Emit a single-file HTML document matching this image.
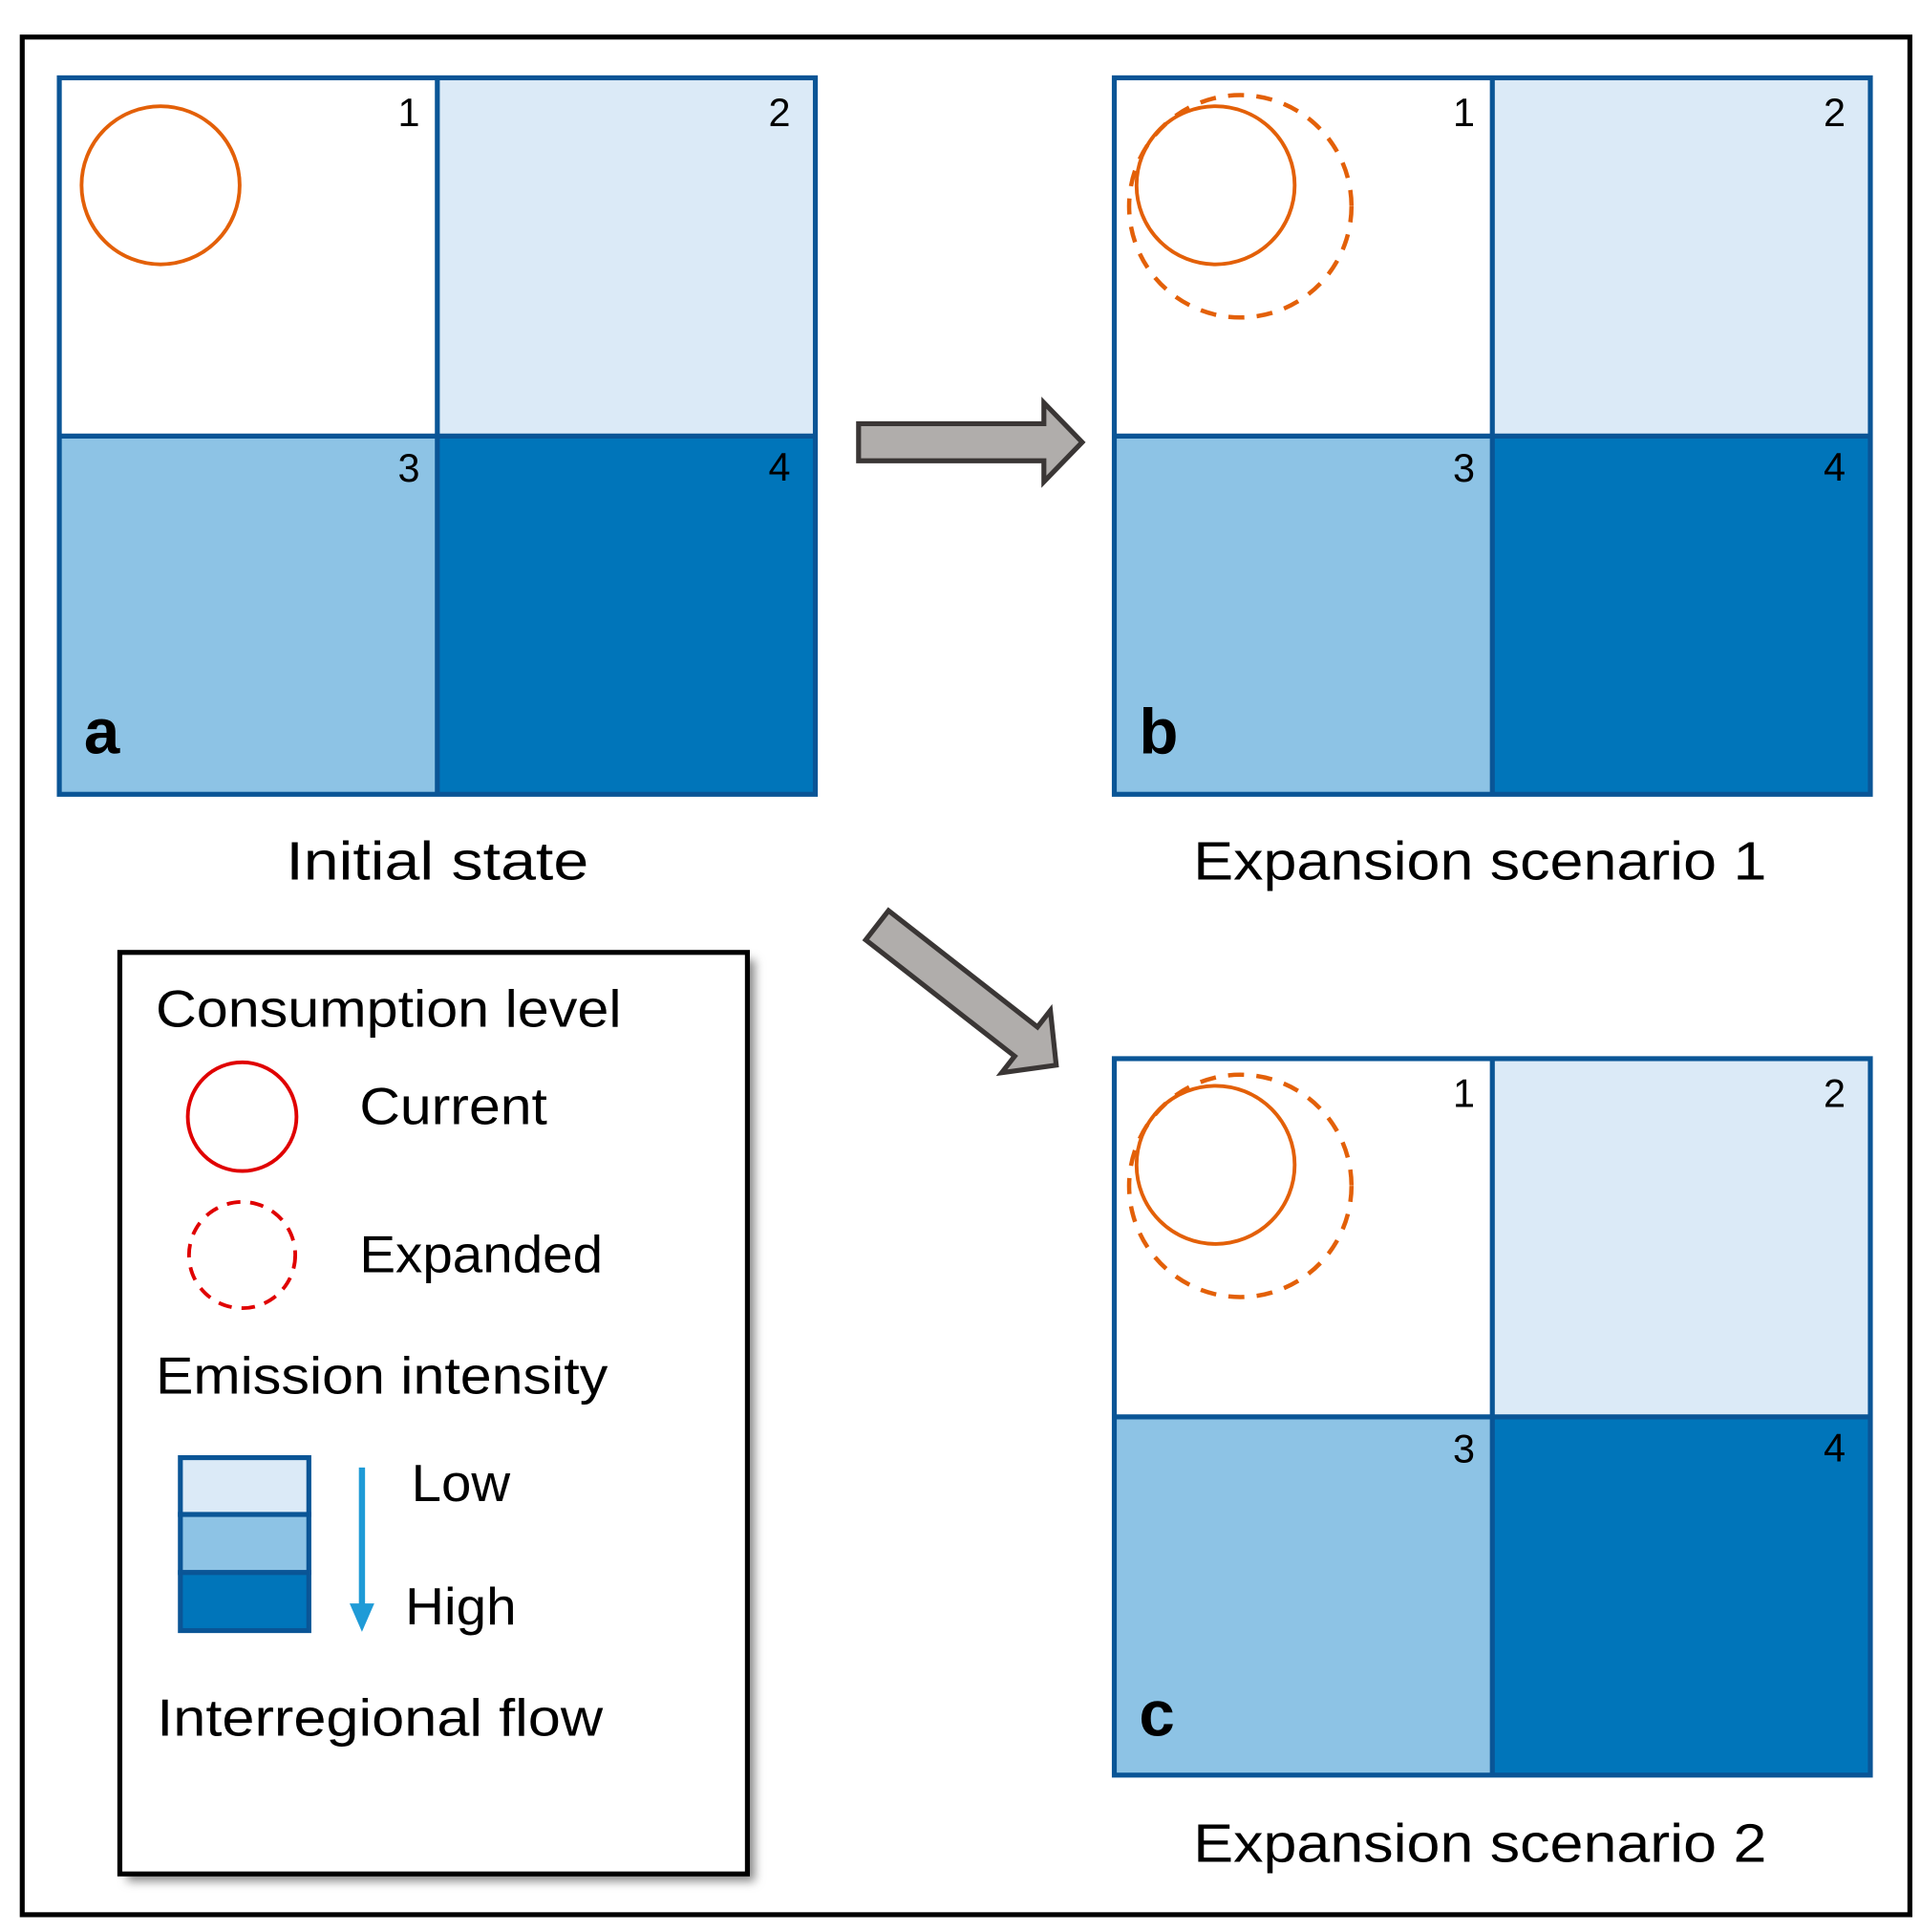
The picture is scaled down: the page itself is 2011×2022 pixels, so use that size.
<!DOCTYPE html>
<html><head><meta charset="utf-8"><style>html,body{margin:0;padding:0;background:#fff}svg{display:block}</style></head>
<body>
<svg width="2011" height="2022" viewBox="0 0 1555 1564" preserveAspectRatio="none" xmlns="http://www.w3.org/2000/svg" font-family="'Liberation Sans', sans-serif">
<defs>
<filter id="sh" x="-10%" y="-10%" width="130%" height="130%"><feGaussianBlur stdDeviation="4"/></filter>
<g id="grid">
<rect x="0" y="0" width="306" height="290" fill="#fff"/>
<rect x="306" y="0" width="306" height="290" fill="#dbeaf7"/>
<rect x="0" y="290" width="306" height="290" fill="#8dc3e5"/>
<rect x="306" y="290" width="306" height="290" fill="#0075ba"/>
<rect x="0" y="0" width="612" height="580" fill="none" stroke="#0a5596" stroke-width="4"/>
<line x1="306" y1="0" x2="306" y2="580" stroke="#0a5596" stroke-width="4"/>
<line x1="0" y1="290" x2="612" y2="290" stroke="#0a5596" stroke-width="4"/>
<g font-size="32" fill="#000" text-anchor="middle">
<text x="283" y="39">1</text><text x="583" y="39">2</text>
<text x="283" y="327">3</text><text x="583" y="326">4</text>
</g>
</g>
</defs>
<rect x="18" y="30" width="1528" height="1520" fill="#fff" stroke="#000" stroke-width="4"/>

<use href="#grid" x="48" y="63"/>
<circle cx="130" cy="150" r="64" fill="none" stroke="#e36008" stroke-width="3"/>
<text x="68" y="610" font-size="52" font-weight="bold">a</text>
<text x="354" y="712" font-size="44" text-anchor="middle" textLength="245" lengthAdjust="spacingAndGlyphs">Initial state</text>

<use href="#grid" x="902" y="63"/>
<circle cx="984" cy="150" r="64" fill="none" stroke="#e36008" stroke-width="3"/>
<circle cx="1004" cy="167" r="90" fill="none" stroke="#e36008" stroke-width="3.5" stroke-dasharray="13 10"/>
<text x="922" y="610" font-size="52" font-weight="bold">b</text>
<text x="1198" y="712" font-size="44" text-anchor="middle" textLength="464" lengthAdjust="spacingAndGlyphs">Expansion scenario 1</text>

<use href="#grid" x="902" y="857"/>
<circle cx="984" cy="943" r="64" fill="none" stroke="#e36008" stroke-width="3"/>
<circle cx="1004" cy="960" r="90" fill="none" stroke="#e36008" stroke-width="3.5" stroke-dasharray="13 10"/>
<text x="922" y="1405" font-size="52" font-weight="bold">c</text>
<text x="1198" y="1507" font-size="44" text-anchor="middle" textLength="464" lengthAdjust="spacingAndGlyphs">Expansion scenario 2</text>

<polygon points="695,343 845,343 845,326 876,358 845,390 845,373 695,373" fill="#b0adab" stroke="#3a3635" stroke-width="4"/>
<g transform="translate(710,749) rotate(38)">
<polygon points="0,-15 153,-15 153,-32 184,0 153,32 153,15 0,15" fill="#b0adab" stroke="#3a3635" stroke-width="4"/>
</g>

<rect x="103" y="777" width="508" height="746" fill="#888" filter="url(#sh)"/>
<rect x="97" y="771" width="508" height="746" fill="#fff" stroke="#000" stroke-width="4"/>
<g font-size="42" fill="#000">
<text x="126" y="831" textLength="377" lengthAdjust="spacingAndGlyphs">Consumption level</text>
<text x="291" y="910" textLength="152" lengthAdjust="spacingAndGlyphs">Current</text>
<text x="291" y="1030" textLength="197" lengthAdjust="spacingAndGlyphs">Expanded</text>
<text x="126" y="1128" textLength="366" lengthAdjust="spacingAndGlyphs">Emission intensity</text>
<text x="333" y="1215" textLength="80" lengthAdjust="spacingAndGlyphs">Low</text>
<text x="328" y="1315" textLength="90" lengthAdjust="spacingAndGlyphs">High</text>
<text x="127" y="1405" textLength="361" lengthAdjust="spacingAndGlyphs">Interregional flow</text>
</g>
<circle cx="196" cy="904" r="44" fill="none" stroke="#e00000" stroke-width="3"/>
<circle cx="196" cy="1016" r="43" fill="none" stroke="#e00000" stroke-width="3" stroke-dasharray="11 8"/>
<rect x="146" y="1180" width="104" height="46" fill="#dbeaf7" stroke="#0a5596" stroke-width="4"/>
<rect x="146" y="1226" width="104" height="47" fill="#8dc3e5" stroke="#0a5596" stroke-width="4"/>
<rect x="146" y="1273" width="104" height="47" fill="#0075ba" stroke="#0a5596" stroke-width="4"/>
<line x1="293" y1="1188" x2="293" y2="1302" stroke="#1f9bd7" stroke-width="5"/>
<polygon points="283,1298 303,1298 293,1321" fill="#1f9bd7"/>
</svg>
</body></html>
